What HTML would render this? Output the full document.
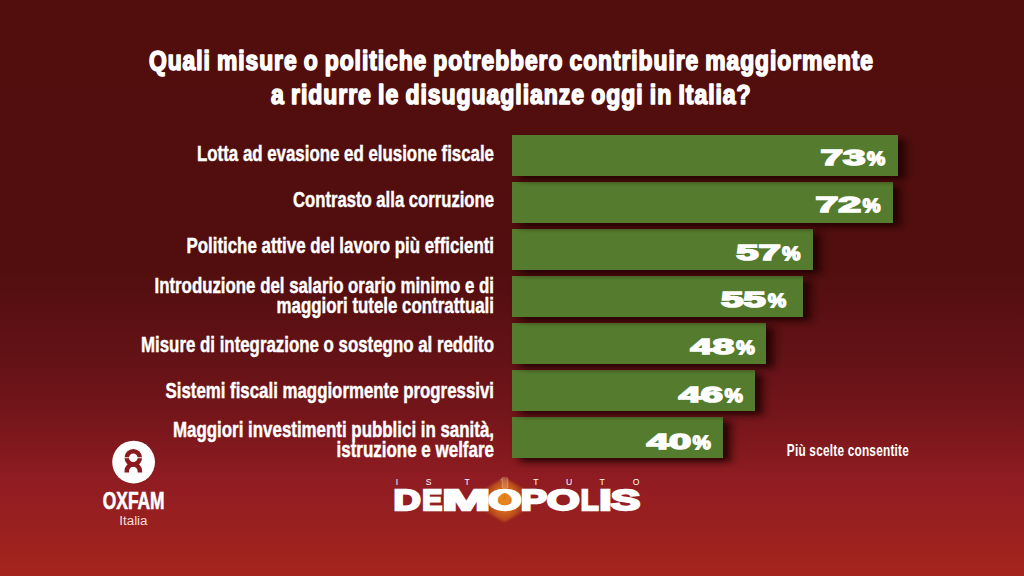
<!DOCTYPE html>
<html lang="it">
<head>
<meta charset="utf-8">
<title>Demopolis - Oxfam Italia</title>
<style>
html,body{margin:0;padding:0;background:#520e0e;}
body{width:1024px;height:576px;overflow:hidden;}
svg{display:block;}
text{font-family:"Liberation Sans",Arial,Helvetica,sans-serif;}
</style>
</head>
<body>
<svg width="1024" height="576" viewBox="0 0 1024 576">
<defs>
<linearGradient id="bg" x1="0" y1="0" x2="0" y2="1">
<stop offset="0" stop-color="#520e0d"/>
<stop offset="0.47" stop-color="#520e0e"/>
<stop offset="0.62" stop-color="#631216"/>
<stop offset="0.73" stop-color="#76161b"/>
<stop offset="0.83" stop-color="#8f1c22"/>
<stop offset="1" stop-color="#a5241d"/>
</linearGradient>
<filter id="sh" x="-10%" y="-60%" width="130%" height="250%">
<feDropShadow dx="7.5" dy="4" stdDeviation="5 3.3" flood-color="#1c0002" flood-opacity="0.9"/>
</filter>
<radialGradient id="glow" cx="0.5" cy="0.5" r="0.5">
<stop offset="0" stop-color="#f0901e"/>
<stop offset="0.5" stop-color="#d2691e"/>
<stop offset="0.8" stop-color="#bd4e1e"/>
<stop offset="1" stop-color="#ab3c1f" stop-opacity="0.9"/>
</radialGradient>
<filter id="bl" x="-20%" y="-20%" width="140%" height="140%"><feGaussianBlur stdDeviation="0.9"/></filter>
</defs>
<rect width="1024" height="576" fill="url(#bg)"/>

<g font-weight="bold" fill="#fff" stroke="#fff" stroke-width="1.6" stroke-linejoin="round" letter-spacing="1.1" word-spacing="-1.3">
<text x="149" y="70.1" font-size="26.9" font-weight="bold" text-anchor="start" fill="#fff" textLength="725" lengthAdjust="spacingAndGlyphs">Quali misure o politiche potrebbero contribuire maggiormente</text>
<text x="271" y="103.7" font-size="26.9" font-weight="bold" text-anchor="start" fill="#fff" textLength="480.6" lengthAdjust="spacingAndGlyphs">a ridurre le disuguaglianze oggi in Italia?</text>
</g>
<g fill="#557c2d">
<rect x="512" y="417" width="211" height="41" filter="url(#sh)"/>
<rect x="512" y="370" width="243" height="41" filter="url(#sh)"/>
<rect x="512" y="323" width="254" height="41" filter="url(#sh)"/>
<rect x="512" y="276" width="291" height="41" filter="url(#sh)"/>
<rect x="512" y="229" width="301" height="41" filter="url(#sh)"/>
<rect x="512" y="182" width="381" height="41" filter="url(#sh)"/>
<rect x="512" y="135" width="386" height="41" filter="url(#sh)"/>
</g>
<g font-weight="bold" fill="#fff" stroke="#fff" stroke-width="0.45">
<text x="197" y="161" font-size="21.7" font-weight="bold" text-anchor="start" fill="#fff" textLength="297" lengthAdjust="spacingAndGlyphs">Lotta ad evasione ed elusione fiscale</text>
<text x="293" y="207" font-size="21.7" font-weight="bold" text-anchor="start" fill="#fff" textLength="201" lengthAdjust="spacingAndGlyphs">Contrasto alla corruzione</text>
<text x="186.5" y="253" font-size="21.7" font-weight="bold" text-anchor="start" fill="#fff" textLength="307.5" lengthAdjust="spacingAndGlyphs">Politiche attive del lavoro più efficienti</text>
<text x="154.5" y="293" font-size="21.7" font-weight="bold" text-anchor="start" fill="#fff" textLength="339.5" lengthAdjust="spacingAndGlyphs">Introduzione del salario orario minimo e di</text>
<text x="276.5" y="313" font-size="21.7" font-weight="bold" text-anchor="start" fill="#fff" textLength="217.5" lengthAdjust="spacingAndGlyphs">maggiori tutele contrattuali</text>
<text x="141" y="351.5" font-size="21.7" font-weight="bold" text-anchor="start" fill="#fff" textLength="353" lengthAdjust="spacingAndGlyphs">Misure di integrazione o sostegno al reddito</text>
<text x="165.5" y="397.5" font-size="21.7" font-weight="bold" text-anchor="start" fill="#fff" textLength="328.5" lengthAdjust="spacingAndGlyphs">Sistemi fiscali maggiormente progressivi</text>
<text x="173" y="436.5" font-size="21.7" font-weight="bold" text-anchor="start" fill="#fff" textLength="321" lengthAdjust="spacingAndGlyphs">Maggiori investimenti pubblici in sanità,</text>
<text x="336.5" y="456.5" font-size="21.7" font-weight="bold" text-anchor="start" fill="#fff" textLength="157.5" lengthAdjust="spacingAndGlyphs">istruzione e welfare</text>
</g>
<g font-weight="bold" fill="#fff" stroke="#fff" stroke-linejoin="miter">
<text x="820.56" y="164.7" font-size="22.7" font-weight="bold" text-anchor="start" fill="#fff" textLength="45.0" lengthAdjust="spacingAndGlyphs" stroke-width="1.6">73</text>
<text x="867.14" y="164.6" font-size="17.6" font-weight="normal" text-anchor="start" fill="#fff" textLength="18.04" lengthAdjust="spacingAndGlyphs" stroke-width="1.9">%</text>
<text x="815.53" y="211.7" font-size="22.7" font-weight="bold" text-anchor="start" fill="#fff" textLength="45.71" lengthAdjust="spacingAndGlyphs" stroke-width="1.6">72</text>
<text x="862.76" y="211.6" font-size="17.6" font-weight="normal" text-anchor="start" fill="#fff" textLength="17.62" lengthAdjust="spacingAndGlyphs" stroke-width="1.9">%</text>
<text x="736.27" y="259.6" font-size="22.7" font-weight="bold" text-anchor="start" fill="#fff" textLength="44.6" lengthAdjust="spacingAndGlyphs" stroke-width="1.6">57</text>
<text x="782.34" y="259.5" font-size="17.6" font-weight="normal" text-anchor="start" fill="#fff" textLength="18.04" lengthAdjust="spacingAndGlyphs" stroke-width="1.9">%</text>
<text x="720.96" y="306.6" font-size="22.7" font-weight="bold" text-anchor="start" fill="#fff" textLength="44.86" lengthAdjust="spacingAndGlyphs" stroke-width="1.6">55</text>
<text x="767.94" y="306.5" font-size="17.6" font-weight="normal" text-anchor="start" fill="#fff" textLength="18.04" lengthAdjust="spacingAndGlyphs" stroke-width="1.9">%</text>
<text x="690.61" y="353.6" font-size="22.7" font-weight="bold" text-anchor="start" fill="#fff" textLength="43.6" lengthAdjust="spacingAndGlyphs" stroke-width="1.6">48</text>
<text x="736.24" y="353.5" font-size="17.6" font-weight="normal" text-anchor="start" fill="#fff" textLength="18.36" lengthAdjust="spacingAndGlyphs" stroke-width="1.9">%</text>
<text x="678.7" y="401.6" font-size="22.7" font-weight="bold" text-anchor="start" fill="#fff" textLength="44.34" lengthAdjust="spacingAndGlyphs" stroke-width="1.6">46</text>
<text x="724.75" y="401.5" font-size="17.6" font-weight="normal" text-anchor="start" fill="#fff" textLength="17.93" lengthAdjust="spacingAndGlyphs" stroke-width="1.9">%</text>
<text x="646.69" y="448.6" font-size="22.7" font-weight="bold" text-anchor="start" fill="#fff" textLength="44.55" lengthAdjust="spacingAndGlyphs" stroke-width="1.6">40</text>
<text x="692.75" y="448.5" font-size="17.6" font-weight="normal" text-anchor="start" fill="#fff" textLength="17.93" lengthAdjust="spacingAndGlyphs" stroke-width="1.9">%</text>
</g>
<text x="786.8" y="455.6" font-size="16.2" font-weight="bold" text-anchor="start" fill="#fff" textLength="122.2" lengthAdjust="spacingAndGlyphs" letter-spacing="0.3">Più scelte consentite</text>
<g>
<circle cx="133.6" cy="462.1" r="21.4" fill="#fff"/>
<circle cx="133.3" cy="457.8" r="6.55" fill="none" stroke="#8b1a20" stroke-width="4.5"/>
<rect x="124" y="457.3" width="18.6" height="0.9" fill="#fff"/>
<path d="M126.75 472.6 L126.75 471 A6.55 6.55 0 0 1 139.85 471 L139.85 472.6" fill="none" stroke="#8b1a20" stroke-width="4.5"/>
</g>
<text x="102.8" y="508.5" font-size="23.4" font-weight="bold" text-anchor="start" fill="#fff" textLength="61.8" lengthAdjust="spacingAndGlyphs" stroke="#fff" stroke-width="0.6">OXFAM</text>
<text x="119.3" y="524.6" font-size="12.5" font-weight="normal" text-anchor="start" fill="#f6dede" textLength="28.2" lengthAdjust="spacingAndGlyphs">Italia</text>
<text x="397 428.7 467 501.1 535.9 569.2 602 636.2" y="485.3" font-size="8.6" font-weight="normal" fill="#fff" text-anchor="middle">ISTITUTO</text>
<polygon points="504.3,477.5 523,488.5 523,511.5 504.3,522.5 485.6,511.5 485.6,488.5" fill="url(#glow)" filter="url(#bl)"/>
<g aria-label="DEMOPOLIS" font-size="30" font-weight="bold" fill="#fff" stroke="#fff" stroke-width="2.3" stroke-linejoin="miter"><text x="393.62" y="510" textLength="27.32" lengthAdjust="spacingAndGlyphs">D</text><text x="422.35" y="510" textLength="19.97" lengthAdjust="spacingAndGlyphs">E</text><text x="442.3" y="510" textLength="47.89" lengthAdjust="spacingAndGlyphs">M</text><text x="488.2" y="510" textLength="33.25" lengthAdjust="spacingAndGlyphs">O</text><text x="520.71" y="510" textLength="26.28" lengthAdjust="spacingAndGlyphs">P</text><text x="546.71" y="510" textLength="32.91" lengthAdjust="spacingAndGlyphs">O</text><text x="580.69" y="510" textLength="17.85" lengthAdjust="spacingAndGlyphs">L</text><text x="599.18" y="510" textLength="12.34" lengthAdjust="spacingAndGlyphs">I</text><text x="610.88" y="510" textLength="29.5" lengthAdjust="spacingAndGlyphs">S</text></g>
<rect x="502.2" y="477" width="5.6" height="11" fill="#ffe9c8" opacity="0.2"/>
<path d="M502.2 477.5V488M507.8 478.5V488" stroke="#fff0d8" stroke-width="0.8" opacity="0.4" fill="none"/>
<ellipse cx="504.8" cy="498.9" rx="5.6" ry="6" fill="#e8861e"/>
<path d="M504.8 494.5V499.5M503 497.5V499.5" stroke="#c96a14" stroke-width="0.7" fill="none"/>
</svg>
</body>
</html>
